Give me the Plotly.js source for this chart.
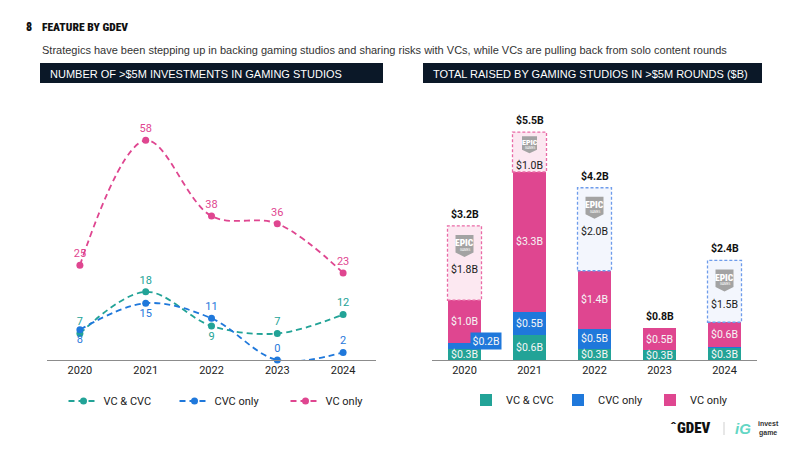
<!DOCTYPE html>
<html><head><meta charset="utf-8">
<script src="https://cdn.plot.ly/plotly-3.0.1.min.js"></script>
<style>html,body{margin:0;padding:0;background:#fff}#chart{width:800px;height:450px}</style>
</head><body><div id="chart"></div>
<script>
// ---------- data ----------
const years = ['2020','2021','2022','2023','2024'];
const seriesNames = ['VC & CVC','CVC only','VC only'];
// Number of >$5M investments in gaming studios
const vcCvcCount = [7, 18, 9, 7, 12];
const cvcOnlyCount = [8, 15, 11, 0, 2];
const vcOnlyCount = [25, 58, 38, 36, 23];
// Total raised in >$5M rounds ($B)
const vcCvcAmt = [0.27, 0.60, 0.27, 0.23, 0.28];
const cvcOnlyAmt = [0.15, 0.56, 0.48, 0.00, 0.03];
const vcOnlyAmt = [1.02, 3.37, 1.40, 0.54, 0.60];
const epicAmt = [1.79, 0.96, 2.00, 0.00, 1.49];
const epicGroup = ['VC only','VC only','CVC only','','CVC only'];
const vcCvcLbl = ['$0.3B','$0.6B','$0.3B','$0.3B','$0.3B'];
const cvcOnlyLbl = ['$0.2B','$0.5B','$0.5B','',''];
const vcOnlyLbl = ['$1.0B','$3.3B','$1.4B','$0.5B','$0.6B'];
const epicLbl = ['$1.8B','$1.0B','$2.0B','','$1.5B'];
const totalLbl = ['$3.2B','$5.5B','$4.2B','$0.8B','$2.4B'];
const vcCvcPos = ['top center','top center','bottom center','top center','top center'];
const cvcOnlyPos = ['bottom center','bottom center','top center','top center','top center'];

// ---------- style ----------
const W = 800, H = 450;
const px = x => x / W, py = y => 1 - y / H;
const TEAL = '#22A397', BLUE = '#1F78DB', PINK = '#DF4690';
const NAVY = '#0B1828';
const CHART_FONT = 'Roboto, "Noto Sans", sans-serif';
const HEAD_FONT = '"Liberation Sans", Arial, sans-serif';
const COND_FONT = '"Liberation Sans Narrow", "Roboto Condensed", "DejaVu Sans Condensed", "DejaVu Sans", sans-serif';
const Y1 = [0, 63], Y1DOM = [0.2, py(121.4)];
const Y2 = [0, 6], Y2DOM = [0.2, py(111)];
const pxPerB = (Y2DOM[1] - Y2DOM[0]) * H / (Y2[1] - Y2[0]);

function lineTrace(name, y, color, pos) {
  return {
    type: 'scatter', mode: 'lines+markers+text', x: years, y: y, name: name,
    text: y.map(String), textposition: pos,
    textfont: {family: CHART_FONT, size: 11, color: color},
    line: {color: color, width: 1.8, dash: '6px,4px', shape: 'spline'},
    marker: {color: color, size: 7},
    cliponaxis: false, xaxis: 'x', yaxis: 'y', legend: 'legend', hoverinfo: 'skip'
  };
}
function barTrace(name, y, color) {
  return {type: 'bar', x: years, y: y, name: name, width: 0.52,
    marker: {color: color, line: {width: 0}}, xaxis: 'x2', yaxis: 'y2',
    legend: 'legend2', hoverinfo: 'skip'};
}

const data = [
  lineTrace(seriesNames[0], vcCvcCount, TEAL, vcCvcPos),
  lineTrace(seriesNames[1], cvcOnlyCount, BLUE, cvcOnlyPos),
  lineTrace(seriesNames[2], vcOnlyCount, PINK, 'top center'),
  barTrace(seriesNames[0], vcCvcAmt, TEAL),
  barTrace(seriesNames[1], cvcOnlyAmt, BLUE),
  barTrace(seriesNames[2], vcOnlyAmt, PINK),
  Object.assign(barTrace('Epic Games', epicAmt,
    epicGroup.map(g => g === 'VC only' ? '#FCE8F1' : '#F3F6FD')), {showlegend: false})
];

const shapes = [
  {type: 'rect', xref: 'paper', yref: 'paper', x0: px(40), x1: px(383), y0: py(83), y1: py(63), fillcolor: NAVY, line: {width: 0}, layer: 'below'},
  {type: 'rect', xref: 'paper', yref: 'paper', x0: px(423), x1: px(762), y0: py(83), y1: py(63), fillcolor: NAVY, line: {width: 0}, layer: 'below'},
  {type: 'line', xref: 'paper', yref: 'paper', x0: px(724), x1: px(724), y0: py(422), y1: py(435), line: {color: '#cfcfcf', width: 1}}
];

const ann = [];
const txt = (x, y, text, font, extra) => ann.push(Object.assign({xref: 'paper', yref: 'paper', x: px(x), y: py(y), text: text, showarrow: false, font: font, xanchor: 'left', yanchor: 'middle'}, extra || {}));
const condBold = (size, color) => ({family: COND_FONT, size: size, color: color, weight: 900, stretch: 'condensed'});
txt(24, 27, '8', condBold(12, '#111'));
txt(40, 27, 'FEATURE BY GDEV', condBold(11.5, '#111'));
txt(40, 50, 'Strategics have been stepping up in backing gaming studios and sharing risks with VCs, while VCs are pulling back from solo content rounds', {family: HEAD_FONT, size: 11, color: '#333'});
txt(48, 73.5, 'NUMBER OF &gt;$5M INVESTMENTS IN GAMING STUDIOS', {family: HEAD_FONT, size: 11, color: '#fff'});
txt(431, 73.5, 'TOTAL RAISED BY GAMING STUDIOS IN &gt;$5M ROUNDS ($B)', {family: HEAD_FONT, size: 11, color: '#fff'});
// footer logos
txt(690, 428, 'ˆGDEV', condBold(15, '#111'), {xanchor: 'center'});
txt(743, 428, '<b><i>iG</i></b>', {family: HEAD_FONT, size: 15, color: '#63D6C4'}, {xanchor: 'center'});
txt(756, 428, '<b>invest<br>game</b>', {family: HEAD_FONT, size: 7, color: '#333'});

// bar labels
const inFont = {family: CHART_FONT, size: 10.5, color: '#F6F6F6'};
years.forEach((yr, i) => {
  const a = {xref: 'x2', yref: 'y2', x: i, showarrow: false, yanchor: 'middle'};
  let base = 0;
  [[vcCvcAmt, vcCvcLbl, BLUE], [cvcOnlyAmt, cvcOnlyLbl, BLUE], [vcOnlyAmt, vcOnlyLbl, PINK]].forEach(([vals, lbls, col]) => {
    const v = vals[i];
    if (lbls[i]) {
      if (v * pxPerB < 9) {
        ann.push(Object.assign({}, a, {y: base + v / 2, text: lbls[i], font: inFont, bgcolor: col, borderpad: 1.5, xshift: 21, yshift: 5}));
      } else {
        ann.push(Object.assign({}, a, {y: base + v / 2, text: lbls[i], font: inFont}));
      }
    }
    base += v;
  });
  const top = base + epicAmt[i];
  if (epicAmt[i] > 0) {
    const compact = epicAmt[i] * pxPerB < 50;
    const lt = compact ? 4 : 9, lh = compact ? 17 : 22, lw = compact ? 15 : 18;
    const lblOff = compact ? 33 : 44;
    const col = epicGroup[i] === 'VC only' ? '#E96AA6' : '#6E9CEB';
    shapes.push({type: 'rect', xref: 'x2', yref: 'y2', xsizemode: 'pixel', xanchor: i, x0: -17, x1: 17,
      y0: base, y1: top, line: {color: col, width: 1.3, dash: '3px,2px'}, fillcolor: 'rgba(0,0,0,0)'});
    const hw = lw / 2, b1 = lt + lh * 0.8, b2 = lt + lh;
    shapes.push({type: 'path', xref: 'x2', yref: 'y2', xsizemode: 'pixel', ysizemode: 'pixel', xanchor: i, yanchor: top,
      path: `M${-hw},${-lt} L${hw},${-lt} L${hw},${-b1} L0,${-b2} L${-hw},${-b1} Z`, fillcolor: '#A3A3A3', line: {width: 0}});
    ann.push(Object.assign({}, a, {y: top, yshift: -(lt + lh * 0.36), text: 'EPIC', font: condBold(compact ? 8 : 9.5, '#fff')}));
    ann.push(Object.assign({}, a, {y: top, yshift: -(lt + lh * 0.68), text: 'GAMES', font: {family: COND_FONT, size: 3.5, color: '#fff'}}));
    ann.push(Object.assign({}, a, {y: top, yshift: -lblOff, text: epicLbl[i], font: {family: CHART_FONT, size: 10.5, color: '#1a1a1a'}}));
  }
  ann.push(Object.assign({}, a, {y: top, yanchor: 'bottom', yshift: 3, text: '<b>' + totalLbl[i] + '</b>', font: {family: CHART_FONT, size: 10.5, color: '#111'}}));
});

const xax = dom => ({type: 'category', domain: dom, range: [-0.5, 4.5], autorange: false, showgrid: false, zeroline: false, showline: true, linecolor: '#8c8c8c', linewidth: 1, ticks: '', tickfont: {family: CHART_FONT, size: 11, color: '#222'}, fixedrange: true});
const yax = (rng, dom, anchor) => ({range: rng, autorange: false, domain: dom, visible: false, showgrid: false, zeroline: false, anchor: anchor, fixedrange: true});

const legendFont = {family: CHART_FONT, size: 11, color: '#222'};
const layout = {
  width: W, height: H, margin: {l: 0, r: 0, t: 0, b: 0},
  paper_bgcolor: '#fff', plot_bgcolor: 'rgba(0,0,0,0)',
  barmode: 'stack', hovermode: false,
  xaxis: Object.assign(xax([px(47), px(376)]), {anchor: 'y'}),
  yaxis: yax(Y1, Y1DOM, 'x'),
  xaxis2: Object.assign(xax([px(432), px(757)]), {anchor: 'y2'}),
  yaxis2: yax(Y2, Y2DOM, 'x2'),
  legend: {orientation: 'h', traceorder: 'normal', x: px(230), xanchor: 'center', y: py(401), yanchor: 'middle', font: legendFont, bgcolor: 'rgba(0,0,0,0)', entrywidth: 66, entrywidthmode: 'pixels'},
  legend2: {orientation: 'h', traceorder: 'normal', x: px(604), xanchor: 'center', y: py(400), yanchor: 'middle', font: legendFont, bgcolor: 'rgba(0,0,0,0)', itemwidth: 30, entrywidth: 47, entrywidthmode: 'pixels'},
  shapes: shapes, annotations: ann
};
Plotly.newPlot('chart', data, layout, {displayModeBar: false, staticPlot: true});
</script></body></html>
